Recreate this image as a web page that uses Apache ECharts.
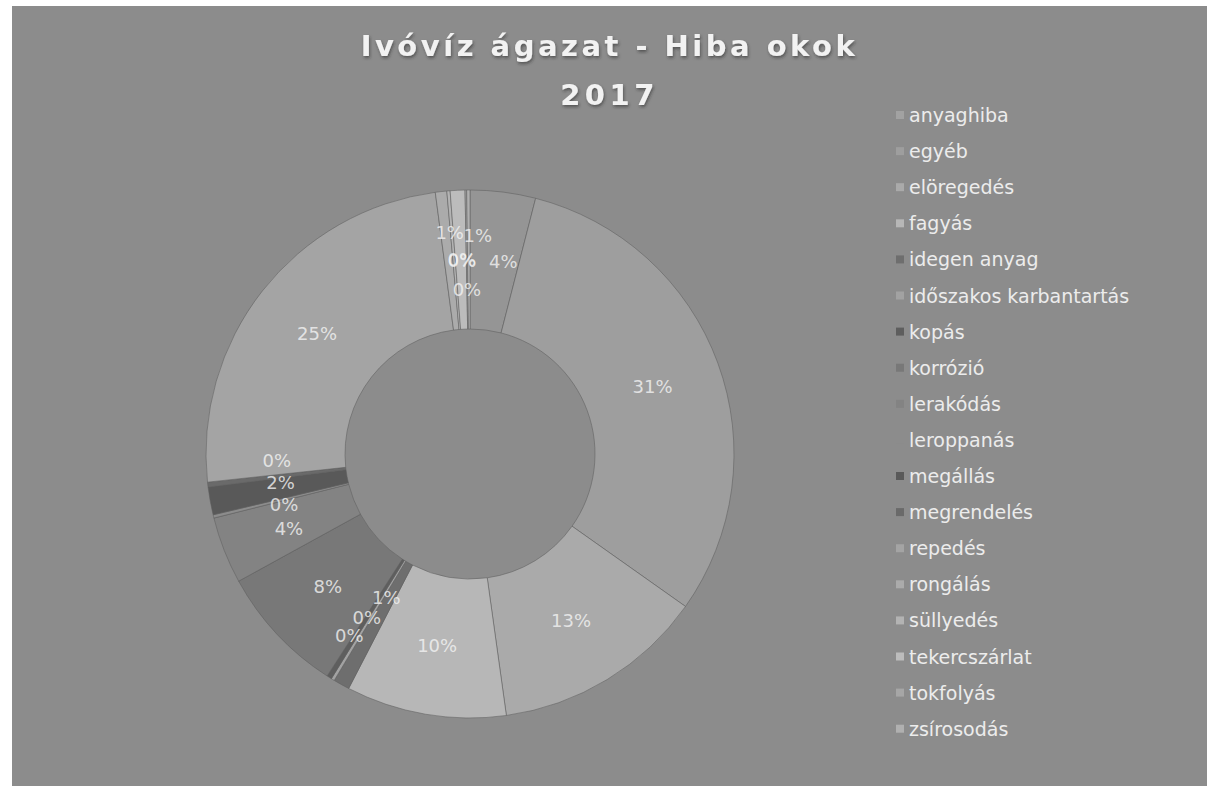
<!DOCTYPE html>
<html>
<head>
<meta charset="utf-8">
<script src="https://cdn.jsdelivr.net/npm/echarts@6/dist/echarts.min.js"></script>
<style>
  html, body { margin: 0; padding: 0; background: #ffffff; width: 1207px; height: 786px; overflow: hidden; }
  #chart { position: absolute; left: 12px; top: 6px; width: 1195px; height: 780px; }
</style>
</head>
<body>
<div id="chart"></div>
<script>
// ---- data ----
const TITLE_LINES = ['Ivóvíz ágazat - Hiba okok', '2017'];
const categories = [
  'anyaghiba', 'egyéb', 'elöregedés', 'fagyás', 'idegen anyag',
  'időszakos karbantartás', 'kopás', 'korrózió', 'lerakódás', 'leroppanás',
  'megállás', 'megrendelés', 'repedés', 'rongálás', 'süllyedés',
  'tekercszárlat', 'tokfolyás', 'zsírosodás'
];
// share of failures, % (labels show rounded values)
const values = [
  4.0, 30.8, 13.0, 9.8, 1.0,
  0.2, 0.3, 7.9, 4.1, 0.2,
  1.7, 0.3, 24.6, 0.7, 0.2,
  0.9, 0.1, 0.2
];

// ---- styles ----
const colors = [
  '#959595', '#9e9e9e', '#aaaaaa', '#b7b7b7', '#6e6e6e',
  '#a2a2a2', '#5e5e5e', '#787878', '#838383', '#8c8c8c',
  '#595959', '#6a6a6a', '#a4a4a4', '#ababab', '#b3b3b3',
  '#bcbcbc', '#a6a6a6', '#b0b0b0'
];
// legend swatches that look different from their slice in the scan
const legendSwatch = { 'anyaghiba': '#a2a2a2' };
const CENTER = [458, 448];
const RING = [125, 264];
// small nudges that spread the crowded labels of the tiny slices, as in the reference
const labelNudge = {
  'anyaghiba': [9, 0],
  'idegen anyag': [11, -26],
  'időszakos karbantartás': [-2, -3],
  'kopás': [-17, 17],
  'lerakódás': [0, 3],
  'leroppanás': [3, 5],
  'megállás': [2, -6],
  'megrendelés': [0, -16],
  'rongálás': [1, -28],
  'süllyedés': [8, 0],
  'tekercszárlat': [17, -24],
  'tokfolyás': [0, 30],
  'zsírosodás': [-7, 0]
};

const total = values.reduce((a, b) => a + b, 0);
let cum = 0;
const labelPoints = values.map((v, i) => {
  const mid = cum + v / 2;
  cum += v;
  const pct = Math.round(v / total * 100);
  const nudge = labelNudge[categories[i]] || [0, 0];
  return {
    name: categories[i],
    value: [(RING[0] / RING[1] + 1) / 2, mid / total * 100],
    pct: pct,
    label: { offset: nudge }
  };
});

const chart = echarts.init(document.getElementById('chart'), null, { renderer: 'svg' });

const option = {
  backgroundColor: '#8c8c8c',
  animation: false,
  color: colors,
  title: {
    text: TITLE_LINES.join('\n'),
    left: 'center',
    top: 10,
    textStyle: {
      fontFamily: 'DejaVu Sans',
      fontWeight: 'bold',
      fontSize: 29,
      lineHeight: 49,
      color: '#f2f2f2',
      textShadowColor: 'rgba(40,40,40,0.55)',
      textShadowBlur: 3,
      textShadowOffsetX: 1,
      textShadowOffsetY: 2
    }
  },
  legend: {
    orient: 'vertical',
    left: 879,
    top: 94,
    icon: 'rect',
    itemWidth: 8,
    itemHeight: 8,
    itemGap: 16.1,
    itemStyle: { borderWidth: 0 },
    data: categories.map(n => legendSwatch[n] ? { name: n, itemStyle: { color: legendSwatch[n] } } : n),
    textStyle: {
      fontFamily: 'DejaVu Sans',
      fontSize: 19,
      lineHeight: 20,
      color: '#ececec'
    },
    selectedMode: false
  },
  polar: { center: CENTER, radius: [0, RING[1]] },
  angleAxis: { type: 'value', min: 0, max: 100, startAngle: 90, clockwise: true, show: false },
  radiusAxis: { type: 'value', min: 0, max: 1, show: false },
  series: [{
    type: 'pie',
    center: CENTER,
    radius: RING,
    startAngle: 90,
    clockwise: true,
    avoidLabelOverlap: false,
    itemStyle: {
      borderColor: 'rgba(95,95,95,0.55)',
      borderWidth: 1
    },
    label: { show: false },
    labelLine: { show: false },
    emphasis: { disabled: true },
    data: categories.map((name, i) => ({ name: name, value: values[i] }))
  }, {
    type: 'scatter',
    coordinateSystem: 'polar',
    symbol: 'circle',
    symbolSize: 1,
    itemStyle: { color: 'rgba(0,0,0,0)' },
    silent: true,
    legendHoverLink: false,
    label: {
      show: true,
      position: 'inside',
      fontFamily: 'DejaVu Sans',
      fontSize: 18,
      color: '#f4f4f4',
      formatter: p => p.data.pct + '%'
    },
    emphasis: { disabled: true },
    data: labelPoints
  }]
};

chart.setOption(option);

function spaceTitle() {
  document.querySelectorAll('#chart text').forEach(t => {
    const s = t.textContent;
    if (s === TITLE_LINES[0]) t.style.letterSpacing = '3.5px';
    else if (s === TITLE_LINES[1]) t.style.letterSpacing = '4.5px';
  });
}
chart.on('finished', spaceTitle);
spaceTitle();
setTimeout(spaceTitle, 50);
</script>
</body>
</html>
